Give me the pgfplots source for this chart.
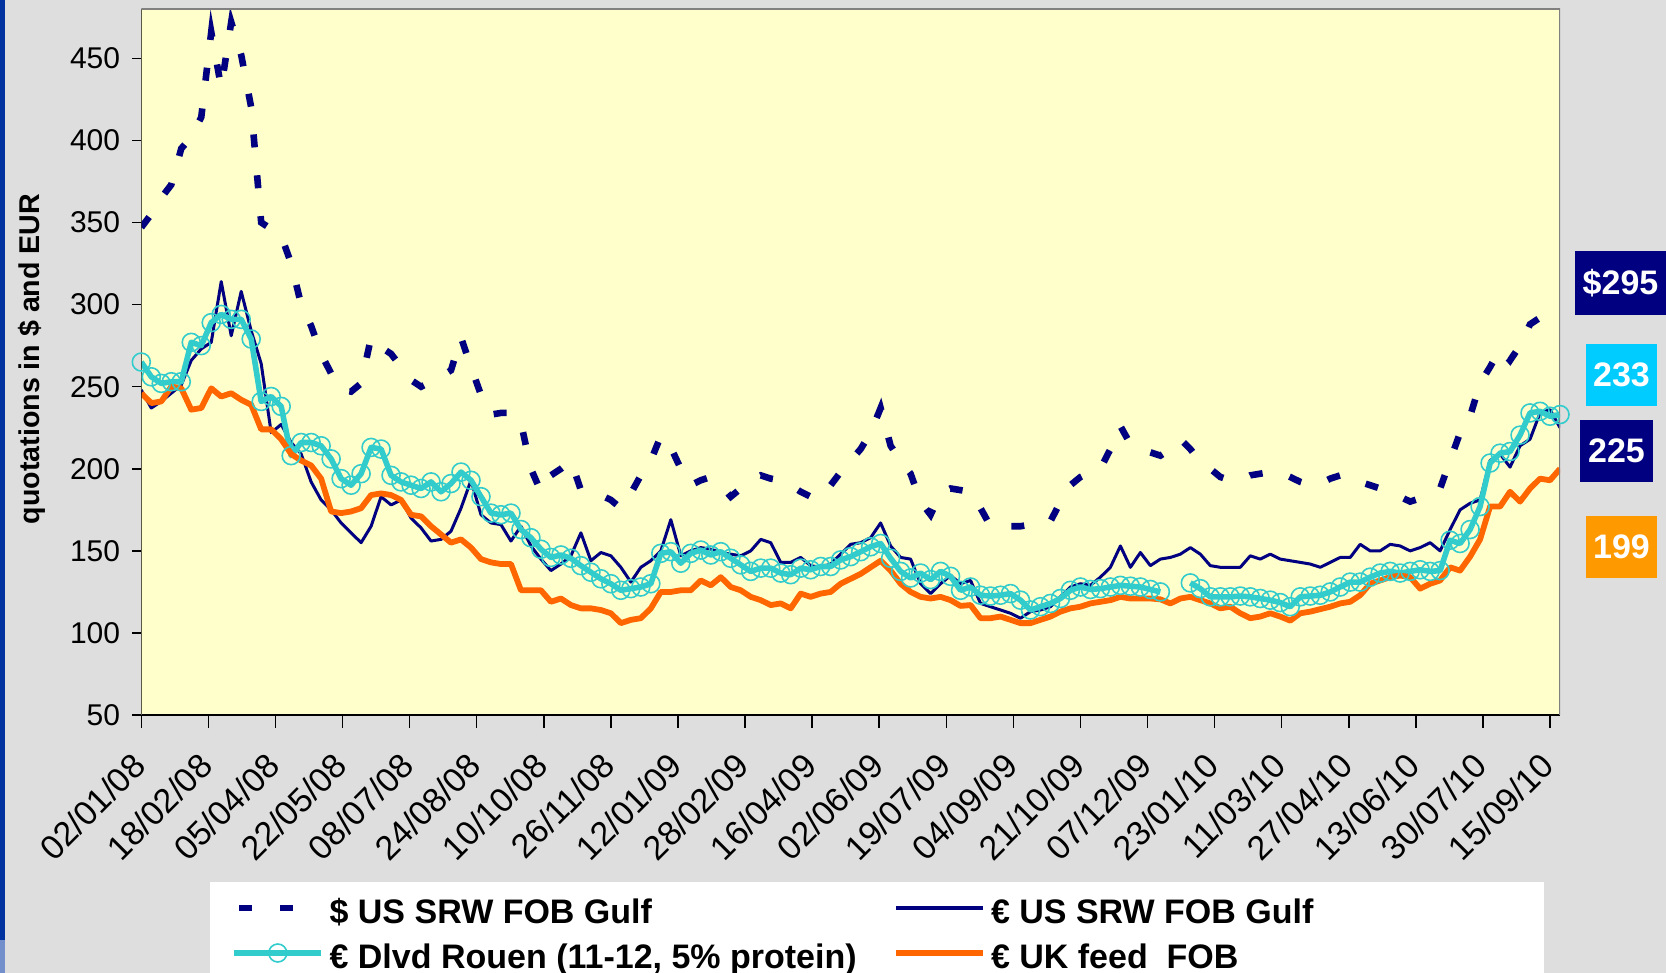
\documentclass[border=0pt]{standalone}
\usepackage{fontspec}
\setmainfont{Liberation Sans}
\usepackage{pgfplots}
\usepackage{pgfplotstable}
\pgfplotsset{compat=1.18}
\definecolor{navy}{HTML}{000080}
\definecolor{rouen}{HTML}{33CCCC}
\definecolor{ukor}{HTML}{FF6600}
\definecolor{plotbg}{HTML}{FFFFCC}
\definecolor{slidegray}{HTML}{DEDEDE}
\definecolor{boxcyan}{HTML}{00CCFF}
\definecolor{boxorange}{HTML}{FF9900}
\definecolor{slideblue}{HTML}{0033A0}
\definecolor{bordergray}{HTML}{808080}

\pgfplotstableread{
w usd eur rouen uk
0 347 248 265 246
1 355 237 256 240
2 365 241 252 241
3 373 246 253 250
4 395 251 253 249
5 402 266 277 236
6 414 273 275 237
7 466 277 289 249
8 432 314 294 244
9 472 281 291 246
10 452 308 291 242
11 420 284 279 239
12 350 264 241 224
13 346 222 244 224
14 342 227 238 218
15 325 216 208 209
16 300 209 216 205
17 287 192 216 202
18 270 181 214 194
19 258 175 206 174
20 248 167 194 173
21 247 161 190 174
22 252 155 197 176
23 280 165 213 184
24 274 183 212 185
25 270 178 196 184
26 262 181 192 181
27 254 170 190 172
28 250 164 188 171
29 253 156 192 165
30 256 157 186 160
31 260 162 191 155
32 280 176 198 157
33 262 193 193 152
34 245 172 183 145
35 233 167 173 143
36 234 166 172 142
37 234 156 173 142
38 228 165 163 126
39 200 153 158 126
40 186 145 151 126
41 196 138 146 119
42 200 142 147.5 121
43 205 147 145.5 117
44 187 161 141 115
45 185 144 137 115
46 184 149 133 114
47 181 147 130 112
48 176 140 126 106
49 185 131 127 108
50 196 140 128 109
51 205 144 130 115
52 220 150 148.5 125
53 213 169 149.5 125
54 200 147 142.5 126
55 190 150 148.5 126
56 193 152 150.5 132
57 195 151 147.5 129
58 190 149 149.5 134
59 183 148 145.5 128
60 188 147 141.5 126
61 193 150 137.5 122
62 196 157 139.5 120
63 194 155 139.5 117
64 193 143 136.5 118
65 190 143 135.5 115
66 186 146 139.5 124
67 183 141 138.5 122
68 182 140 140.5 124
69 190 142 140.5 125
70 198 148 144.5 130
71 205 154 146.5 133
72 212 155 149.5 136
73 222 158 152.5 140
74 237 167 154.5 144
75 214 153 145.5 138
76 205 146 137.5 130
77 197 145 133.5 125
78 180 130 136.5 122
79 172 124 132.5 121
80 185 130 137.5 122
81 188 135 134.5 120
82 187 130 126 116.5
83 186 132 128 117
84 176 118 123 109
85 165 116 122.5 109
86 164 114 123 110
87 165 112 124 108
88 165 109 120 106
89 166 113 114 106
90 167 114 116 108
91 168 116 118 110
92 180 122 121 113
93 190 128 126 115
94 195 130 128 116
95 198 129 126.5 118
96 200 134 127 119
97 212 140 128 120
98 226 153 129 122
99 215 140 128.5 121
100 212 149 128 121
101 210 141 126.5 121
102 208 145 125 120.5
103 212 146 nan 118
104 218 148 nan 121
105 212 152 130.5 122
106 204 148 127 120
107 200 141 122 118
108 195 140 122 115
109 193 140 122 116
110 193 140 122.5 112
111 196 147 122 109
112 197 145 121 110
113 198 148 120 112
114 198 145 118.5 110
115 195 144 116 107.5
116 192 143 122 112
117 190 142 122.5 113
118 191 140 123 114.5
119 194 143 125 116
120 196 146 128 118
121 196 146 131 119
122 192 154 131 123
123 190 150 134 130
124 188 150 136.5 132
125 186 154 137.5 134
126 183 153 136.5 135
127 180 150 137.5 134
128 182 152 138.5 127
129 185 155 137.5 130
130 188 150 138 132
131 205 163 156.5 140
132 222 175 154.5 138
133 232 179 163 146.5
134 252 181 177 157
135 262 205 203.5 177
136 273 209 209.5 177
137 266 201 210.5 186
138 275 214 220.5 180
139 288 218 234 188
140 292 234 235 194
141 298 236 232 193
142 296 225 233 200
}\datatable

\begin{document}
\begin{tikzpicture}
\fill[slidegray] (0pt,0pt) rectangle (833pt,486.5pt);
\fill[slideblue] (0pt,16.5pt) rectangle (2.5pt,486.5pt);
\fill[slideblue!55!white] (0pt,0pt) rectangle (2.5pt,16.5pt);
\fill[white] (105pt,0pt) rectangle (772pt,45.5pt);
\node[rotate=90, font=\bfseries\fontsize{14.3}{17}\selectfont] at (16pt,307pt) {quotations in \$ and EUR};
\begin{axis}[
  scale only axis, width=709.35pt, height=353.05pt,
  at={(70.65pt,128.95pt)}, anchor=south west,
  xmin=0, xmax=142, ymin=50, ymax=480,
  axis background/.style={fill=plotbg},
  axis line style={draw=none},
  tick pos=left, tick align=outside,
  xtick style={/pgfplots/major tick length=6.5pt, line width=0.75pt, black},
  ytick style={/pgfplots/major tick length=4.5pt, line width=0.75pt, black},
  ytick={50,100,...,450},
  /pgf/number format/assume math mode=true,
  yticklabel style={font=\fontsize{15}{18}\selectfont, anchor=east, inner sep=0pt, xshift=-6.15pt},
  xtick={0,6.7142857,13.4285714,20.1428571,26.8571429,33.5714286,40.2857143,47,53.7142857,60.4285714,67.1428571,73.8571429,80.5714286,87.2857143,94,100.7142857,107.4285714,114.1428571,120.8571429,127.5714286,134.2857143,141},
  xticklabels={02/01/08,18/02/08,05/04/08,22/05/08,08/07/08,24/08/08,10/10/08,26/11/08,12/01/09,28/02/09,16/04/09,02/06/09,19/07/09,04/09/09,21/10/09,07/12/09,23/01/10,11/03/10,27/04/10,13/06/10,30/07/10,15/09/10},
  xticklabel style={font=\fontsize{17}{20}\selectfont, inner sep=0pt, yshift=-18pt, xshift=-1pt, rotate=45, anchor=east},
  legend columns=2,
  legend cell align=left,
  legend image code/.code={\draw[mark repeat=2,mark phase=2,#1] plot coordinates {(0pt,0pt) (21.75pt,0pt) (43.5pt,0pt)};},
  legend style={at={(axis description cs:0.06323,-0.25195)}, anchor=north west, draw=none, fill=none,
    inner sep=0pt, outer sep=0pt, font=\bfseries\fontsize{17}{20}\selectfont,
    nodes={inner sep=0pt, text height=15pt, text depth=0pt},
    column sep=0pt, row sep=7.5pt,
    /tikz/every odd column/.append style={column sep=2.5pt},
    /tikz/every even column/.append style={column sep=0pt}},
]
\addplot[navy, line width=3.3pt, dash pattern=on 6.5pt off 14pt, line cap=butt, mark=none, legend image post style={dash phase=18pt}] table[x=w,y=usd]{\datatable};
\addlegendentry{\makebox[281.8pt][l]{\$ US SRW FOB Gulf}}
\addplot[navy, line width=1.5pt, line join=round, mark=none] table[x=w,y=eur]{\datatable};
\addlegendentry{€ US SRW FOB Gulf}
\addplot[rouen, line width=2.8pt, line join=round, unbounded coords=jump, mark=o, mark size=4.5pt, mark options={solid, line width=0.8pt, fill=none}] table[x=w,y=rouen]{\datatable};
\addlegendentry{\makebox[281.8pt][l]{€ Dlvd Rouen (11-12, 5\% protein)}}
\addplot[ukor, line width=2.9pt, line join=round, mark=none] table[x=w,y=uk]{\datatable};
\addlegendentry{€ UK feed\ \ FOB}
\draw[black, line width=0.75pt] (rel axis cs:0,1) -- (rel axis cs:0,0) -- (rel axis cs:1,0);
\draw[bordergray, line width=1pt] (rel axis cs:0,1) -- (rel axis cs:1,1) -- (rel axis cs:1,0);
\end{axis}
\node[fill=navy, text=white, font=\bfseries\fontsize{17}{20}\selectfont, minimum width=45.5pt, minimum height=32pt, inner sep=0pt] at (810.25pt,345pt) {\$295};
\node[fill=boxcyan, text=white, font=\bfseries\fontsize{17}{20}\selectfont, minimum width=35.5pt, minimum height=31pt, inner sep=0pt] at (810.75pt,299pt) {233};
\node[fill=navy, text=white, font=\bfseries\fontsize{17}{20}\selectfont, minimum width=36.5pt, minimum height=31pt, inner sep=0pt] at (808.25pt,261pt) {225};
\node[fill=boxorange, text=white, font=\bfseries\fontsize{17}{20}\selectfont, minimum width=35.5pt, minimum height=31pt, inner sep=0pt] at (810.75pt,213pt) {199};
\pgfresetboundingbox
\useasboundingbox (0pt,0pt) rectangle (833pt,486.5pt);
\end{tikzpicture}
\end{document}
